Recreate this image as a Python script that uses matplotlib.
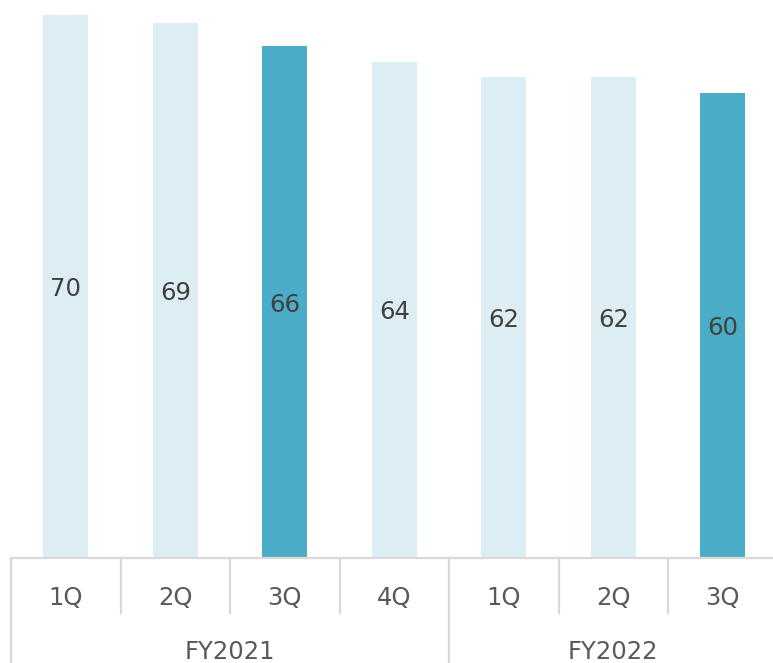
import matplotlib
matplotlib.use("Agg")
import matplotlib.pyplot as plt

quarters = ["1Q", "2Q", "3Q", "4Q", "1Q", "2Q", "3Q"]
values = [70, 69, 66, 64, 62, 62, 60]
highlight = [False, False, True, False, False, False, True]
years = ["FY2021", "FY2022"]
year_spans = [(0, 4), (4, 7)]

LIGHT = "#DCEDF4"
DARK = "#4AACC6"
GRID = "#D9D9D9"
TXT = "#404040"
TICK = "#595959"
FS = 17.5

W, H = 773, 663
fig = plt.figure(figsize=(W / 100, H / 100), dpi=100)
ax = fig.add_axes([11 / W, 105 / H, 766.5 / W, 558 / H])

x = list(range(len(values)))
colors = [DARK if h else LIGHT for h in highlight]
ax.bar(x, values, width=0.41, color=colors, zorder=2)
for xi, v in zip(x, values):
    ax.text(xi, v / 2, str(v), ha="center", va="center_baseline", fontsize=FS, color=TXT)

ax.set_xlim(-0.5, len(values) - 0.5)
ax.set_ylim(0, 71.93)
for s in ax.spines.values():
    s.set_visible(False)
ax.set_xticks([])
ax.set_yticks([])

tr = ax.get_xaxis_transform()
ax.plot([-0.5, len(values) + 0.5], [0, 0], color=GRID, lw=1.6, transform=tr, clip_on=False, zorder=3)
y_short = (558 - 613) / 558
y_long = (558 - 670) / 558
for b in range(len(values) + 1):
    xb = b - 0.5
    y_end = y_long if b in (0, 4, 7) else y_short
    ax.plot([xb, xb], [0, y_end], color=GRID, lw=1.6, transform=tr, clip_on=False)

y_q = (558 - 598) / 558
for xi, q in zip(x, quarters):
    ax.text(xi, y_q, q, ha="center", va="center", fontsize=FS, color=TICK, transform=tr)

y_fy = (558 - 652) / 558
for yname, (a, b) in zip(years, year_spans):
    ax.text((a + b - 1) / 2, y_fy, yname, ha="center", va="center", fontsize=FS, color=TICK, transform=tr)

fig.savefig("out.png", dpi=100)
